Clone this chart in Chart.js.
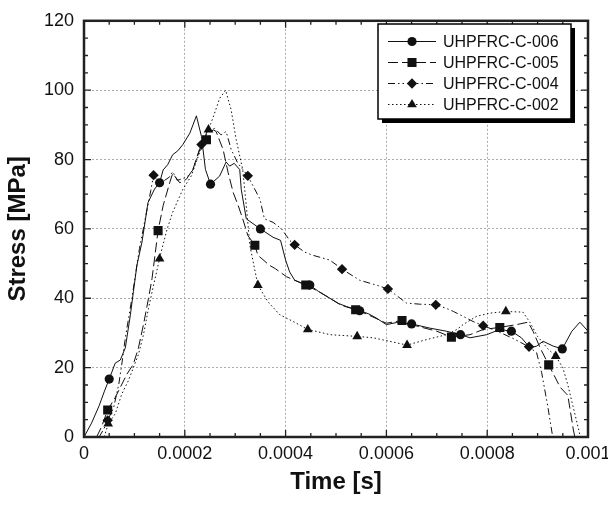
<!DOCTYPE html>
<html>
<head>
<meta charset="utf-8">
<script src="https://cdn.jsdelivr.net/npm/chart.js@4.4.1/dist/chart.umd.min.js"></script>
<style>
  body { margin: 0; background: #fff; }
  #stressChart { display: block; }
</style>
</head>
<body>
<canvas id="stressChart" width="608" height="506"></canvas>
<script>
// tick labels
const xTickLabels = ["0", "0.0002", "0.0004", "0.0006", "0.0008", "0.001"];
const yTickLabels = ["0", "20", "40", "60", "80", "100", "120"];
const seriesNames = ["UHPFRC-C-006", "UHPFRC-C-005", "UHPFRC-C-004", "UHPFRC-C-002"];

// UHPFRC-C-006 (solid, circles)
const time006 = [0, 0.000015, 0.00003, 0.00004, 0.00005, 0.000062, 0.000072, 0.000082, 0.000092, 0.000098,
  0.000105, 0.000115, 0.000127, 0.00014, 0.00015, 0.000157, 0.000166, 0.000176, 0.000186, 0.000196,
  0.00021, 0.000223, 0.000233, 0.000241, 0.000251, 0.000269, 0.000282, 0.000289, 0.000298, 0.000309,
  0.000312, 0.000322, 0.00035, 0.000375, 0.00039, 0.0004, 0.000408, 0.000418, 0.00043, 0.000448,
  0.000465, 0.000488, 0.000505, 0.000521, 0.000547, 0.000565, 0.00058, 0.0006, 0.00062, 0.00065,
  0.000686, 0.000719, 0.000747, 0.000766, 0.000799, 0.000825, 0.000848, 0.000868, 0.000885, 0.000898,
  0.000911, 0.000931, 0.000949, 0.000968, 0.000984, 0.001];
const stress006 = [0, 4, 9, 13, 16.7, 21.3, 22.2, 25.7, 35.2, 41.9,
  49.5, 56.2, 67.6, 71.5, 73.3, 77, 78.5, 81.4, 82.5, 84.3,
  87.6, 92.6, 86.7, 77.1, 72.9, 75.2, 79.3, 78.1, 78.9, 77.1,
  71.4, 62.9, 60, 57.6, 56.7, 51, 47.6, 45.2, 44.5, 43.8,
  42, 40, 38.5, 37.6, 36.4, 35.5, 34.3, 32.4, 33, 32.6,
  31.4, 30.5, 29.5, 28.6, 29.5, 31, 30.5, 28.6, 25.7, 26.2,
  27.6, 26.2, 25.4, 30.5, 33.1, 30.5];
const marks006 = [4, 14, 24, 32, 39, 44, 49, 52, 56, 62];

// UHPFRC-C-005 (long dash, squares)
const time005 = [0.000025, 0.000035, 0.000047, 0.000062, 0.000072, 0.000085, 0.000098, 0.000108, 0.000118, 0.000128,
  0.000135, 0.000147, 0.000157, 0.00017, 0.000176, 0.00019, 0.000203, 0.000216, 0.000229, 0.000243,
  0.000256, 0.000262, 0.000276, 0.000286, 0.000296, 0.000306, 0.000315, 0.000325, 0.000339, 0.000345,
  0.000368, 0.00038, 0.000402, 0.00044, 0.000465, 0.000488, 0.00051, 0.000539, 0.00056, 0.0006,
  0.000631, 0.00066, 0.0007, 0.000729, 0.000766, 0.000792, 0.000825, 0.000858, 0.000881, 0.000891,
  0.000905, 0.000922, 0.000945, 0.00096, 0.000971, 0.000974];
const stress005 = [0, 3, 7.8, 11.4, 14.3, 18.1, 21, 25.7, 32.4, 40,
  45.7, 59.5, 66.7, 73.3, 76, 73.3, 74.3, 77.1, 82.9, 85.7,
  88.6, 88.1, 82.9, 76.2, 70.5, 66.7, 62.9, 58.1, 55.3, 52.4,
  49.5, 48.5, 46.2, 43.8, 42, 40, 38, 36.7, 35.5, 32.8,
  33.6, 32, 30.5, 28.8, 29.5, 31, 31.6, 32.4, 33.1, 30.5,
  25.7, 20.8, 14.3, 12, 2, 0];
const marks005 = [2, 11, 19, 28, 33, 37, 40, 43, 46, 51];

// UHPFRC-C-004 (dash-dot-dot, diamonds)
const time004 = [0.00003, 0.00004, 0.000047, 0.000059, 0.000069, 0.000075, 0.000082, 0.000088, 0.000095, 0.000102,
  0.00011, 0.000124, 0.000133, 0.000138, 0.00015, 0.00016, 0.00017, 0.000176, 0.000185, 0.000196,
  0.000206, 0.000216, 0.000233, 0.000246, 0.000259, 0.000272, 0.000282, 0.000292, 0.000305, 0.000325,
  0.000349, 0.000358, 0.000375, 0.000392, 0.000408, 0.000418, 0.000438, 0.000454, 0.000488, 0.000512,
  0.000547, 0.00058, 0.000603, 0.00064, 0.000666, 0.000698, 0.000719, 0.000733, 0.000752, 0.000772,
  0.000792, 0.00082, 0.00085, 0.000883, 0.000898, 0.000908, 0.00092, 0.00093];
const stress004 = [0, 2.5, 4.8, 8.6, 15.2, 21, 28.6, 33.8, 40, 46.7,
  54.3, 64.8, 71.4, 75.5, 73, 74, 75, 76.5, 74, 74.5,
  75.2, 77, 84.3, 88.6, 89, 87.1, 88.1, 82.9, 79, 75.3,
  68.6, 62.9, 61.9, 60, 56.7, 55.4, 53.3, 52.4, 51, 48.4,
  45.2, 43.8, 42.7, 38.6, 38.3, 38.1, 37.1, 36.2, 34.8, 33.3,
  32.1, 30.5, 28.5, 26, 24.3, 18.6, 9, 0];
const marks004 = [2, 13, 22, 29, 35, 39, 42, 45, 50, 53];

// UHPFRC-C-002 (dotted, triangles)
const time002 = [0.00004, 0.000048, 0.000062, 0.000075, 0.000088, 0.000098, 0.000108, 0.000118, 0.000128, 0.000138,
  0.00015, 0.000153, 0.000165, 0.000176, 0.000196, 0.000213, 0.000229, 0.000247, 0.000259, 0.000269,
  0.000281, 0.000292, 0.000302, 0.000315, 0.000322, 0.000329, 0.000345, 0.000365, 0.000388, 0.000415,
  0.000444, 0.000474, 0.000488, 0.000542, 0.000574, 0.000641, 0.00068, 0.000719, 0.00074, 0.000752,
  0.000779, 0.000805, 0.000837, 0.000871, 0.000885, 0.0009, 0.00092, 0.000936, 0.00095, 0.00096,
  0.00097, 0.00098, 0.000985];
const stress002 = [0, 3.8, 6.7, 12.4, 16.2, 20, 23.8, 29.5, 37.1, 43.8,
  51.4, 53.3, 60, 64.8, 71.4, 75.3, 81.9, 88.6, 93.3, 97.6,
  100, 94.3, 85.7, 77, 66.7, 55.3, 43.8, 39, 35.3, 33.3,
  31, 30, 29.5, 29, 28.6, 26.5, 28.1, 29.5, 31, 32.4,
  34.8, 35.7, 36.2, 36, 33, 29, 25.5, 23.3, 20, 15,
  9, 3, 0];
const marks002 = [1, 10, 17, 26, 30, 33, 35, 42, 47];

const FONT = "'Liberation Sans', Arial, Helvetica, sans-serif";
const INK = "#111";

function makeSet(label, times, stresses, marks, dash, pointStyle, radius) {
  return {
    label: label,
    data: times.map((t, i) => ({ x: t, y: stresses[i] })),
    showLine: true,
    borderColor: INK,
    borderWidth: 1,
    borderDash: dash,
    backgroundColor: INK,
    pointStyle: pointStyle,
    pointBorderColor: INK,
    pointBackgroundColor: INK,
    pointBorderWidth: 0,
    pointRadius: (ctx) => (marks.includes(ctx.dataIndex) ? radius : 0),
    pointHoverRadius: 0,
    tension: 0,
  };
}

const sets = [
  makeSet(seriesNames[0], time006, stress006, marks006, [], "circle", 4.6),
  makeSet(seriesNames[1], time005, stress005, marks005, [10, 4], "rect", 6.4),
  makeSet(seriesNames[2], time004, stress004, marks004, [7, 3, 1.5, 3, 1.5, 3], "rectRot", 5.2),
  makeSet(seriesNames[3], time002, stress002, marks002, [1.5, 2.5], "triangle", 5.6),
];

// frame, inward ticks and boxed legend
const framePlugin = {
  id: "framePlugin",
  afterDraw(chart) {
    const { ctx, chartArea: a, scales } = chart;
    const xs = scales.x, ys = scales.y;
    ctx.save();
    ctx.strokeStyle = "#222";
    ctx.setLineDash([]);
    ctx.lineWidth = 1.3;
    ctx.beginPath();
    for (let k = 0; k <= 20; k++) {
      const v = k * 0.00005;
      const px = xs.getPixelForValue(v);
      const len = k % 4 === 0 ? 7 : 4;
      ctx.moveTo(px, a.bottom); ctx.lineTo(px, a.bottom - len);
      ctx.moveTo(px, a.top); ctx.lineTo(px, a.top + len);
    }
    for (let k = 0; k <= 24; k++) {
      const v = k * 5;
      const py = ys.getPixelForValue(v);
      const len = k % 4 === 0 ? 7 : 4;
      ctx.moveTo(a.left, py); ctx.lineTo(a.left + len, py);
      ctx.moveTo(a.right, py); ctx.lineTo(a.right - len, py);
    }
    ctx.stroke();
    ctx.lineWidth = 2.5;
    ctx.strokeRect(a.left, a.top, a.right - a.left, a.bottom - a.top);

    // legend box
    const bx = 378, by = 24, bw = 193, bh = 95;
    ctx.fillStyle = "#000";
    ctx.fillRect(bx + 4, by + 4, bw, bh);
    ctx.fillStyle = "#fff";
    ctx.fillRect(bx, by, bw, bh);
    ctx.lineWidth = 1.5;
    ctx.strokeStyle = "#000";
    ctx.strokeRect(bx, by, bw, bh);

    const rows = [41.5, 62.5, 83.5, 104.5];
    ctx.font = "16px " + FONT;
    ctx.textBaseline = "middle";
    chart.data.datasets.forEach((ds, i) => {
      const y = rows[i];
      ctx.strokeStyle = INK;
      ctx.lineWidth = 1;
      ctx.setLineDash(ds.borderDash);
      ctx.beginPath();
      ctx.moveTo(388, y);
      ctx.lineTo(436, y);
      ctx.stroke();
      ctx.setLineDash([]);
      ctx.fillStyle = INK;
      const r = ds.pointStyle === "circle" ? 4.6 : ds.pointStyle === "rect" ? 6.4 : ds.pointStyle === "rectRot" ? 5.2 : 5.6;
      Chart.helpers.drawPoint(ctx, { pointStyle: ds.pointStyle, radius: r, borderWidth: 0, rotation: 0 }, 412, y);
      ctx.fillStyle = INK;
      ctx.fillText(ds.label, 443, y + 1);
    });
    ctx.restore();
  },
};

new Chart(document.getElementById("stressChart"), {
  type: "scatter",
  data: { datasets: sets },
  options: {
    responsive: false,
    animation: false,
    layout: { padding: { top: 17, right: 20, left: 0, bottom: 0 } },
    plugins: { legend: { display: false }, tooltip: { enabled: false } },
    scales: {
      x: {
        type: "linear",
        min: 0,
        max: 0.001,
        afterFit: (s) => { s.height = 69; s.paddingLeft = 0; s.paddingRight = 0; },
        ticks: {
          stepSize: 0.0002,
          autoSkip: false,
          maxRotation: 0,
          padding: 6,
          color: INK,
          font: { family: FONT, size: 18 },
          callback: (v, i) => xTickLabels[i],
        },
        grid: { color: "#aaa", lineWidth: 1, drawTicks: false },
        border: { display: false, dash: [2, 2] },
        title: {
          display: true,
          text: "Time [s]",
          color: INK,
          font: { family: FONT, size: 24, weight: "bold" },
          padding: { top: 0, bottom: 9 },
        },
      },
      y: {
        min: 0,
        max: 120,
        afterFit: (s) => { s.width = 84; },
        ticks: {
          stepSize: 20,
          autoSkip: false,
          padding: 10,
          color: INK,
          font: { family: FONT, size: 18 },
          callback: (v, i) => yTickLabels[i],
        },
        grid: { color: "#aaa", lineWidth: 1, drawTicks: false },
        border: { display: false, dash: [2, 2] },
        title: {
          display: true,
          text: "Stress [MPa]",
          color: INK,
          font: { family: FONT, size: 24, weight: "bold" },
          padding: { top: 4, bottom: 0 },
        },
      },
    },
  },
  plugins: [framePlugin],
});
</script>
</body>
</html>
